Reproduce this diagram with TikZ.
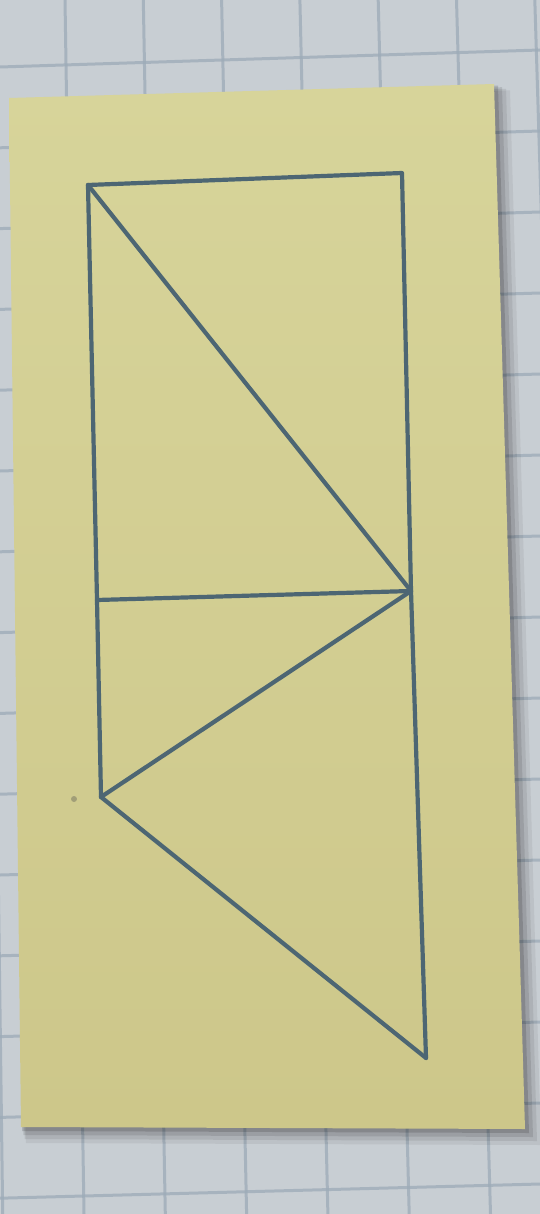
\documentclass[tikz,border=0pt]{standalone}
\definecolor{bgpaper}{HTML}{C8CED3}
\definecolor{gridc}{HTML}{9DABB8}
\definecolor{papertop}{HTML}{D7D49A}
\definecolor{paperbot}{HTML}{CDC78A}
\definecolor{ink}{HTML}{4D6673}
\begin{document}
\begin{tikzpicture}[x=1pt,y=-1pt,
  gridline/.style={draw=gridc,line width=3pt,opacity=0.75},
  inkline/.style={draw=ink,line width=4.2pt,line cap=round,line join=round}]
\useasboundingbox (0,0) rectangle (540,1214);
\fill[bgpaper] (0,0) rectangle (540,1214);
% grid of the squared paper
\foreach \k in {-1,...,6}
  \draw[gridline] ({65+78.3*\k},0) -- ({84+81.3*\k},1214);
\foreach \k in {-1,...,15}
  \draw[gridline] (0,{67+80.8*\k}) -- (540,{50+81*\k});
% shadow of the card
\foreach \o/\a in {16/0.06,12/0.08,8/0.1,4/0.14}
  \fill[black,opacity=\a] ({9+\o*0.3},{98+\o*0.4}) -- ({494+\o},{84+\o*0.4}) -- ({525+\o},{1129+\o}) -- ({21+\o*0.3},{1127+\o}) -- cycle;
% yellow card
\shade[top color=papertop,bottom color=paperbot] (9,98) -- (494,84) -- (525,1129) -- (21,1127) -- cycle;
% small smudge
\fill[black!70,opacity=0.35] (74,799) circle (3);
% drawing
\coordinate (A) at (88,185);
\coordinate (B) at (402,173);
\coordinate (C) at (411,591);
\coordinate (D) at (97,600);
\coordinate (E) at (101,797);
\coordinate (F) at (426,1058);
\draw[inkline] (A) -- (B) -- (C) -- (F);
\draw[inkline] (A) -- (D) -- (E);
\draw[inkline] (A) -- (C);
\draw[inkline] (D) -- (C);
\draw[inkline] (E) -- (C);
\draw[inkline] (E) -- (F);
\end{tikzpicture}
\end{document}
